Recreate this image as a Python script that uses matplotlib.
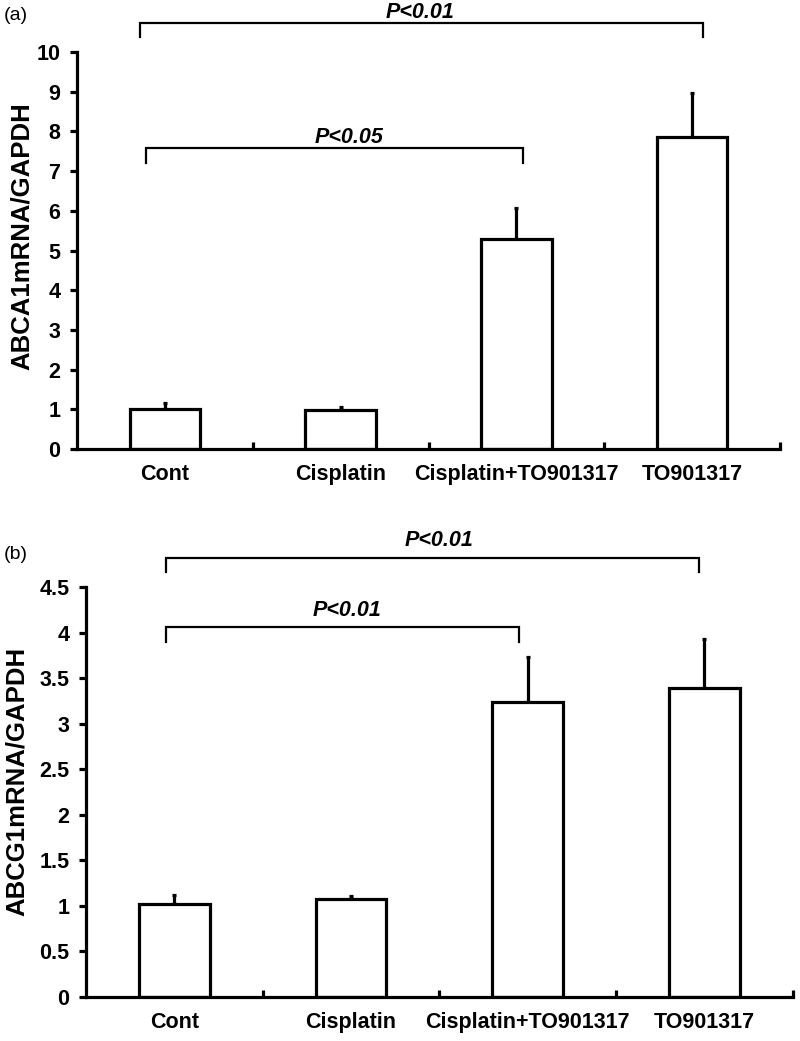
import matplotlib
matplotlib.use("Agg")
import matplotlib.pyplot as plt
import numpy as np

plt.rcParams["font.family"] = ["Liberation Sans", "DejaVu Sans"]

categories = ["Cont", "Cisplatin", "Cisplatin+TO901317", "TO901317"]

abca1_mean = [1.00, 0.98, 5.29, 7.86]
abca1_err = [0.16, 0.08, 0.78, 1.11]
abca1_ticks = [0, 1, 2, 3, 4, 5, 6, 7, 8, 9, 10]

abcg1_mean = [1.02, 1.07, 3.24, 3.39]
abcg1_err = [0.10, 0.04, 0.49, 0.54]
abcg1_ticks = [0, 0.5, 1, 1.5, 2, 2.5, 3, 3.5, 4, 4.5]
abcg1_ticklabels = ["0", "0.5", "1", "1.5", "2", "2.5", "3", "3.5", "4", "4.5"]

# brackets: (x_start, x_end, y_line, y_leg_bottom, text, text_x, text_gap)
abca1_brackets = [(-0.14, 3.06, 10.73, 10.38, "P<0.01", 1.45, 0.0),
                  (-0.11, 2.04, 7.58, 7.20, "P<0.05", 1.05, 0.0)]
abcg1_brackets = [(-0.05, 2.97, 4.82, 4.67, "P<0.01", 1.50, 0.07),
                  (-0.05, 1.95, 4.06, 3.90, "P<0.01", 0.98, 0.07)]

LW = 2.3
FS = 15.5


def draw_panel(ax, means, errs, ticks, ticklabels, ymax, brackets):
    x = np.arange(len(categories))
    ax.bar(x, means, width=0.4, color="white", edgecolor="black", linewidth=LW, zorder=2)
    ax.errorbar(x, means, yerr=[np.zeros(len(errs)), errs], fmt="none", ecolor="black",
                elinewidth=LW, capsize=1.5, capthick=LW, zorder=1)
    ax.set_xlim(-0.5, 3.5)
    ax.set_ylim(0, ymax)
    ax.set_yticks(ticks)
    ax.set_yticklabels(ticklabels, fontsize=FS, fontweight="bold")
    ax.set_xticks(x)
    ax.set_xticklabels(categories, fontsize=FS, fontweight="bold")
    ax.set_xticks([0.5, 1.5, 2.5, 3.5], minor=True)
    ax.tick_params(axis="x", which="major", length=0, pad=11)
    ax.tick_params(axis="x", which="minor", direction="in", length=5, width=LW)
    ax.tick_params(axis="y", direction="out", length=5, width=LW, pad=7)
    for side in ["top", "right"]:
        ax.spines[side].set_visible(False)
    for side in ["left", "bottom"]:
        ax.spines[side].set_linewidth(LW)
    for x0, x1, yl, yb, txt, tx, gap in brackets:
        ax.plot([x0, x0, x1, x1], [yb, yl, yl, yb], color="black", linewidth=1.6,
                clip_on=False, solid_joinstyle="miter")
        ax.text(tx, yl + gap, txt, ha="center", va="bottom", fontsize=FS,
                fontweight="bold", fontstyle="italic", clip_on=False)


fig = plt.figure(figsize=(8, 10.41), dpi=100)
ax1 = fig.add_axes([0.09625, 0.5687, 0.87875, 0.3813])
ax2 = fig.add_axes([0.1075, 0.0423, 0.8835, 0.3938])

draw_panel(ax1, abca1_mean, abca1_err, abca1_ticks, [str(t) for t in abca1_ticks],
           10, abca1_brackets)
draw_panel(ax2, abcg1_mean, abcg1_err, abcg1_ticks, abcg1_ticklabels,
           4.5, abcg1_brackets)

# y-axis titles
fig.text(0.0275, 0.773, "ABCA1mRNA/GAPDH", rotation=90, fontsize=18.5,
         fontweight="bold", ha="center", va="center")
fig.text(0.021, 0.249, "ABCG1mRNA/GAPDH", rotation=90, fontsize=18.5,
         fontweight="bold", ha="center", va="center")

fig.text(0.005, 0.985, "(a)", fontsize=14, va="center", ha="left")
fig.text(0.005, 0.467, "(b)", fontsize=14, va="center", ha="left")

fig.savefig("out.png", dpi=100)
